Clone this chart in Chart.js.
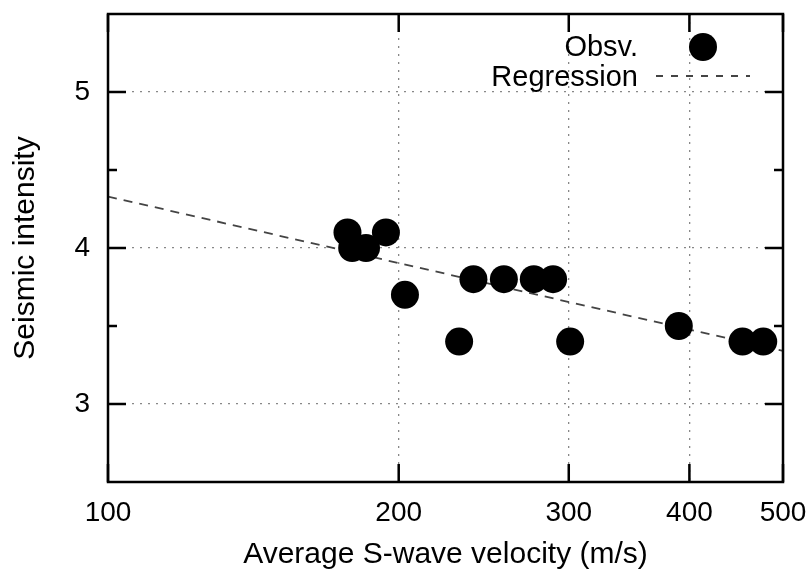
<!DOCTYPE html>
<html>
<head>
<meta charset="utf-8">
<script src="https://cdn.jsdelivr.net/npm/chart.js@4.4.1/dist/chart.umd.min.js"></script>
<style>
  html, body { margin: 0; padding: 0; background: #fff; }
  #wrap { width: 808px; height: 574px; }
</style>
</head>
<body>
<div id="wrap"><canvas id="seismicChart"></canvas></div>
<script>
// observed points (velocity m/s, intensity)
const obsVelocity = [177, 179, 185, 194, 203, 231, 239, 257, 276, 289, 301, 390, 454, 477];
const obsIntensity = [4.1, 4.0, 4.0, 4.1, 3.7, 3.4, 3.8, 3.8, 3.8, 3.8, 3.4, 3.5, 3.4, 3.4];

// regression line end points
const regVelocity = [100, 500];
const regIntensity = [4.33, 3.34];

const xTicks = [100, 200, 300, 400, 500];
const yTicks = [3, 4, 5];
const yMinorTicks = [3.5, 4.5];

const FONT = "'Liberation Sans', Arial, Helvetica, sans-serif";

const obsData = obsVelocity.map((v, i) => ({ x: v, y: obsIntensity[i] }));
const regData = regVelocity.map((v, i) => ({ x: v, y: regIntensity[i] }));

// box + inside tick marks, gnuplot style
const framePlugin = {
  id: "frame",
  afterDatasetsDraw(chart) {
    const { ctx, chartArea: a, scales } = chart;
    ctx.save();
    ctx.strokeStyle = "#000";
    ctx.lineWidth = 2.5;
    ctx.lineCap = "butt";
    ctx.beginPath();
    yTicks.forEach((t) => {
      const y = scales.y.getPixelForValue(t);
      ctx.moveTo(a.left, y); ctx.lineTo(a.left + 18, y);
      ctx.moveTo(a.right, y); ctx.lineTo(a.right - 18, y);
    });
    yMinorTicks.forEach((t) => {
      const y = scales.y.getPixelForValue(t);
      ctx.moveTo(a.left, y); ctx.lineTo(a.left + 9, y);
      ctx.moveTo(a.right, y); ctx.lineTo(a.right - 9, y);
    });
    xTicks.forEach((t) => {
      const x = scales.x.getPixelForValue(t);
      ctx.moveTo(x, a.bottom); ctx.lineTo(x, a.bottom - 18);
      ctx.moveTo(x, a.top); ctx.lineTo(x, a.top + 18);
    });
    ctx.stroke();
    ctx.strokeRect(a.left, a.top, a.right - a.left, a.bottom - a.top);
    ctx.restore();
  },
};

// legend in the top right corner
const keyPlugin = {
  id: "key",
  afterDraw(chart) {
    const { ctx, chartArea: a } = chart;
    const ds = chart.data.datasets;
    const textRight = a.right - 145;
    ctx.save();
    ctx.font = "29px " + FONT;
    ctx.fillStyle = "#000";
    ctx.textAlign = "right";
    ctx.textBaseline = "middle";
    ctx.fillText(ds[0].label, textRight, a.top + 34);
    ctx.fillText(ds[1].label, textRight, a.top + 64);
    ctx.beginPath();
    ctx.arc(a.right - 80, a.top + 33, 14, 0, Math.PI * 2);
    ctx.fill();
    ctx.strokeStyle = "#444";
    ctx.lineWidth = 1.8;
    ctx.setLineDash([7, 8]);
    ctx.beginPath();
    ctx.moveTo(a.right - 127, a.top + 62);
    ctx.lineTo(a.right - 33, a.top + 62);
    ctx.stroke();
    ctx.restore();
  },
};

new Chart(document.getElementById("seismicChart"), {
  type: "scatter",
  data: {
    datasets: [
      {
        label: "Obsv.",
        data: obsData,
        backgroundColor: "#000",
        borderColor: "#000",
        borderWidth: 0,
        pointRadius: 14,
        pointHoverRadius: 14,
      },
      {
        label: "Regression",
        data: regData,
        showLine: true,
        pointRadius: 0,
        borderColor: "#444",
        borderWidth: 1.8,
        borderDash: [9, 7],
        fill: false,
      },
    ],
  },
  options: {
    responsive: true,
    maintainAspectRatio: false,
    animation: false,
    layout: { padding: { top: 12, right: 25, left: 0, bottom: 0 } },
    plugins: {
      legend: { display: false },
      tooltip: { enabled: false },
    },
    scales: {
      x: {
        type: "logarithmic",
        min: 100,
        max: 500,
        afterBuildTicks: (s) => { s.ticks = xTicks.map((v) => ({ value: v })); },
        afterFit: (s) => {
          s.height = 92;
          s.paddingLeft = 0;
          s.paddingRight = 0;
        },
        grid: { color: "#888", lineWidth: 1.3, drawTicks: false },
        border: { display: false, dash: [2, 6] },
        ticks: {
          autoSkip: false,
          maxRotation: 0,
          padding: 14,
          color: "#000",
          font: { family: FONT, size: 28 },
          callback: (v) => String(v),
        },
        title: {
          display: true,
          text: "Average S-wave velocity (m/s)",
          color: "#000",
          font: { family: FONT, size: 30 },
          padding: { top: 0, bottom: 1 },
        },
      },
      y: {
        min: 2.5,
        max: 5.5,
        afterBuildTicks: (s) => { s.ticks = yTicks.map((v) => ({ value: v })); },
        afterFit: (s) => {
          s.width = 108;
          s.paddingTop = 0;
          s.paddingBottom = 0;
        },
        grid: { color: "#888", lineWidth: 1.3, drawTicks: false },
        border: { display: false, dash: [2, 6] },
        ticks: {
          padding: 18,
          color: "#000",
          font: { family: FONT, size: 28 },
          callback: (v) => String(v),
        },
        title: {
          display: true,
          text: "Seismic intensity",
          color: "#000",
          font: { family: FONT, size: 30 },
          padding: { top: 8, bottom: 0 },
        },
      },
    },
  },
  plugins: [framePlugin, keyPlugin],
});
</script>
</body>
</html>
